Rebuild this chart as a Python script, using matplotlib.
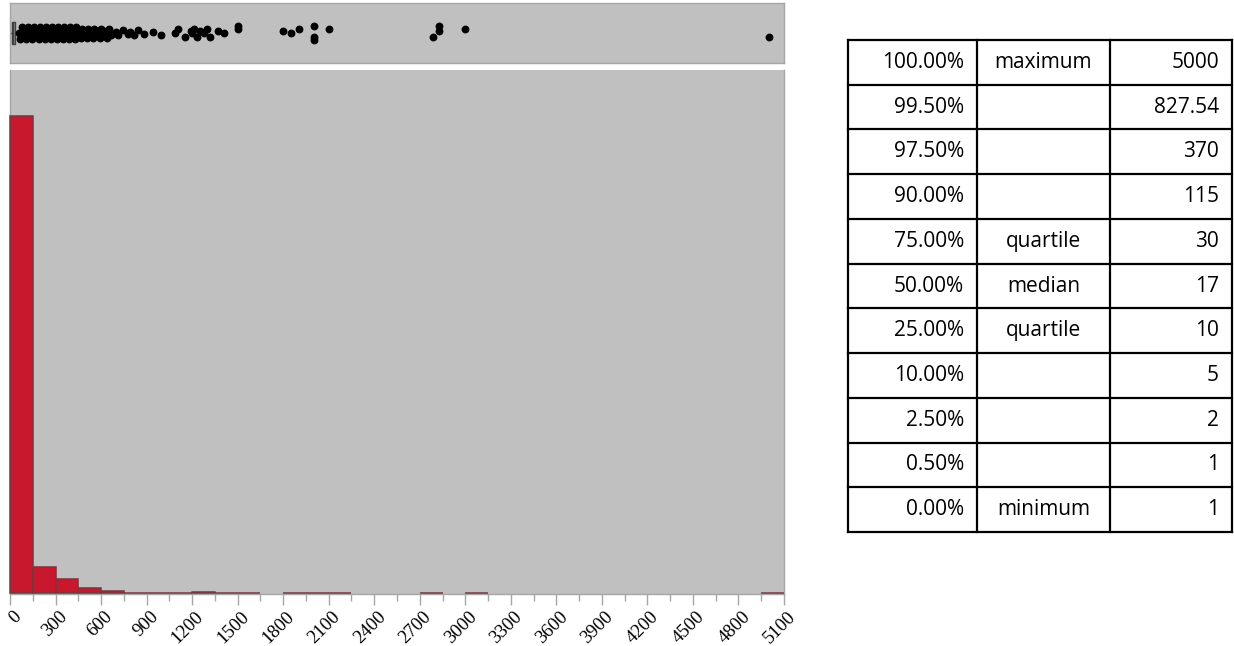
import numpy as np
import matplotlib
matplotlib.use("Agg")
from matplotlib import pyplot as plt
from matplotlib.transforms import ScaledTranslation

# Histogram counts, bins of width 150 from 0 to 5100
bin_width = 150
bin_counts = [5520, 300, 162, 58, 23, 4, 3, 5, 8, 2, 2, 0, 3, 3, 1, 0, 0,
              0, 3, 0, 1, 0, 0, 0, 0, 0, 0, 0, 0, 0, 0, 0, 0, 1]

# Quantile table
quantile_levels = ['100.00%', '99.50%', '97.50%', '90.00%', '75.00%', '50.00%',
                   '25.00%', '10.00%', '2.50%', '0.50%', '0.00%']
quantile_names = ['maximum', '', '', '', 'quartile', 'median', 'quartile',
                  '', '', '', 'minimum']
quantile_values = [5000, 827.54, 370, 115, 30, 17, 10, 5, 2, 1, 1]

# Outliers of the box plot (dense run near the box, then the sparse tail)
dense_outliers = [60, 68, 76, 84, 92, 100, 108, 116, 124, 132, 140, 148, 156,
                  164, 172, 180, 188, 196, 204, 212, 220, 228, 236, 244, 252,
                  260, 268, 276, 284, 292, 300, 308, 316, 324, 332, 340, 348,
                  356, 364, 372, 380, 388, 396, 404, 412, 420, 428, 436, 444,
                  452, 460, 468, 476, 484, 492, 500, 508, 516, 524, 532, 540,
                  548, 556, 564, 572, 580, 590, 600, 610, 620, 630, 640, 652,
                  664]
tail_outliers = [700, 712, 745, 776, 790, 816, 842, 880, 945, 995]
sparse_outliers = [1090, 1105, 1150, 1190, 1200, 1215, 1235, 1250, 1280,
                   1300, 1320, 1370, 1410, 1500, 1500, 1800, 1850, 1905, 2000,
                   2000, 2000, 2100, 2790, 2830, 2830, 3000, 5000]
upper_whisker = 60

panel_grey = '#c0c0c0'
edge_grey = '#a6a6a6'
bar_red = '#c8182d'

fig = plt.figure(figsize=(12.34, 6.46), dpi=100)
W, H = 1234.0, 646.0

# Box plot panel
ax_box = fig.add_axes([10 / W, 1 - 63 / H, 774 / W, 60 / H])
ax_box.set_facecolor(panel_grey)
ax_box.set_xlim(0, 5100)
ax_box.set_ylim(0, 1)
for s in ax_box.spines.values():
    s.set_color(edge_grey)
    s.set_linewidth(1.0)

q1, med, q3 = quantile_values[6], quantile_values[5], quantile_values[4]
stats = [dict(med=med, q1=q1, q3=q3, whislo=quantile_values[-1],
              whishi=upper_whisker, fliers=[])]
ax_box.bxp(stats, positions=[0.5], widths=0.38, orientation='horizontal',
           showfliers=False, patch_artist=True, manage_ticks=False,
           boxprops=dict(facecolor='#9a9a9a', edgecolor='#404040', linewidth=1.0),
           medianprops=dict(color='#404040', linewidth=1.0),
           whiskerprops=dict(color='#404040', linewidth=1.0),
           capprops=dict(linewidth=0))
ax_box.set_xticks([])
ax_box.set_yticks([])

# vertical jitter so overlapping points stay visible
dense_cycle = [0.0, -0.1, 0.1, -0.05, 0.05]
dense_y = []
for i, v in enumerate(dense_outliers):
    spread = 1.0 if v < 450 else 0.75
    dense_y.append(0.5 + spread * dense_cycle[i % 5])
tail_y = [0.5 + [0.02, -0.04, 0.05, -0.02][i % 4] for i in range(len(tail_outliers))]
sparse_y = []
seen = {}
for i, v in enumerate(sparse_outliers):
    k = seen.get(v, 0)
    seen[v] = k + 1
    base = [0.0, 0.06, -0.06, 0.03][i % 4] if k == 0 else [0.0, 0.11, -0.11][k % 3]
    sparse_y.append(0.5 + base)
for xs, ys in [(dense_outliers, dense_y), (tail_outliers, tail_y),
               (sparse_outliers, sparse_y)]:
    ax_box.scatter(xs, ys, s=32, color='black', linewidths=0, zorder=5)

# Histogram panel
ax = fig.add_axes([10 / W, 1 - 594 / H, 774 / W, 524 / H])
ax.set_facecolor(panel_grey)
edges = np.arange(0, 5100 + bin_width, bin_width)
counts = np.array(bin_counts)
nz = counts > 0
ax.bar(edges[:-1][nz], counts[nz], width=bin_width, align='edge',
       color=bar_red, edgecolor='#74383e', linewidth=1.1, zorder=3, clip_on=False)
ax.set_xlim(0, 5100)
ax.set_ylim(-10, counts.max() * 524 / 478)
ax.set_yticks([])
ax.spines['top'].set_visible(False)
for side in ['left', 'right', 'bottom']:
    ax.spines[side].set_color(edge_grey)
    ax.spines[side].set_linewidth(1.0)

major = np.arange(0, 5101, 300)
ax.set_xticks(major)
ax.set_xticks(np.arange(150, 5100, 300), minor=True)
ax.tick_params(axis='x', which='major', length=8, color=edge_grey, width=1.0, pad=2)
ax.tick_params(axis='x', which='minor', length=5, color=edge_grey, width=1.0)
ax.set_xticklabels([str(v) for v in major], rotation=45, ha='right', va='top',
                   rotation_mode='anchor', family='Liberation Serif', fontsize=13.5)
shift = ScaledTranslation(3 / 100, 0, fig.dpi_scale_trans)
for lbl in ax.get_xticklabels():
    lbl.set_transform(lbl.get_transform() + shift)

# Quantile table
tx0, tx1, ty0, ty1 = 848, 1232, 40, 532
ax_t = fig.add_axes([tx0 / W, 1 - ty1 / H, (tx1 - tx0) / W, (ty1 - ty0) / H])
ax_t.set_xlim(0, tx1 - tx0)
ax_t.set_ylim(len(quantile_levels), 0)
ax_t.axis('off')
col_lines = [0, 977 - tx0, 1110 - tx0, tx1 - tx0]
nrows = len(quantile_levels)
for r in range(nrows + 1):
    ax_t.plot([0, col_lines[-1]], [r, r], color='black', lw=1.6,
              solid_capstyle='projecting', clip_on=False)
for c in col_lines:
    ax_t.plot([c, c], [0, nrows], color='black', lw=1.6,
              solid_capstyle='projecting', clip_on=False)

tfont = dict(family='Open Sans', fontsize=15, color='black', va='center')
for r in range(nrows):
    y = r + 0.5
    ax_t.text(col_lines[1] - 13, y, quantile_levels[r], ha='right', **tfont)
    ax_t.text((col_lines[1] + col_lines[2]) / 2, y, quantile_names[r], ha='center', **tfont)
    ax_t.text(col_lines[3] - 13, y, f'{quantile_values[r]:g}', ha='right', **tfont)

fig.savefig('out.png', dpi=100)
